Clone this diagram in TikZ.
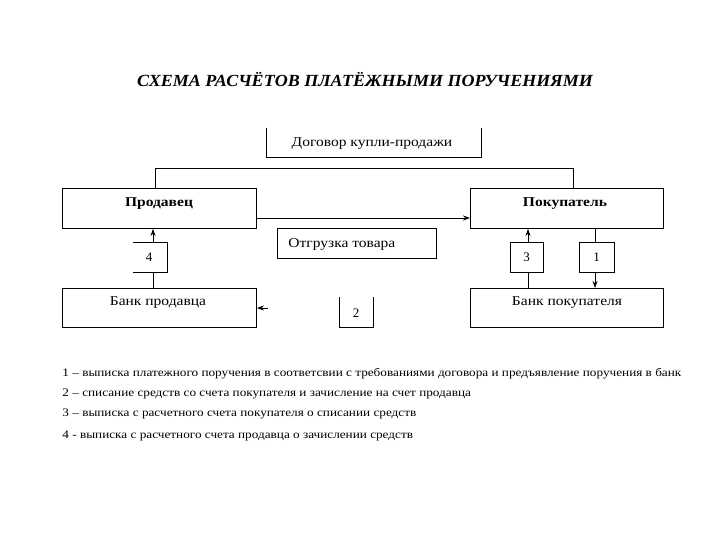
\documentclass[tikz,border=0pt]{standalone}
\usepackage{fontspec}
\setmainfont{Liberation Serif}
\newfontfamily\widefont[FakeStretch=1.15]{Liberation Serif}
\newfontfamily\titlefont[FakeStretch=1.06]{Liberation Serif}
\usetikzlibrary{arrows.meta}
\begin{document}
\begin{tikzpicture}[x=1pt,y=-1pt,line width=0.9pt,
  lbl/.style={font=\widefont\fontsize{13.5}{15}\selectfont},
  blbl/.style={font=\widefont\fontsize{13.5}{15}\selectfont\bfseries},
  num/.style={font=\fontsize{13}{15}\selectfont},
  arr/.style={-{Stealth[length=7pt,width=5pt]}},
  leg/.style={anchor=west,font=\widefont\fontsize{11.5}{13}\selectfont,inner sep=0pt}]
\useasboundingbox (0,0) rectangle (720,540);
\node[font=\titlefont\fontsize{17}{19}\selectfont\bfseries\itshape] (title) at (365,80) {СХЕМА РАСЧЁТОВ ПЛАТЁЖНЫМИ ПОРУЧЕНИЯМИ};
% contract box (open at top)
\coordinate (ctl) at (266,128);
\coordinate (ctr) at (481,128);
\draw (ctl) |- (481,157) -- (ctr);
\node[lbl] (contract) at (372,144) {Договор купли-продажи};
% main boxes
\node[draw,minimum width=194pt,minimum height=40pt,anchor=north west] (seller) at (62,188) {};
\node[blbl] at (159,204) {Продавец};
\node[draw,minimum width=193pt,minimum height=40pt,anchor=north west] (buyer) at (470,188) {};
\node[blbl] at (565,204) {Покупатель};
\node[draw,minimum width=194pt,minimum height=39pt,anchor=north west] (sbank) at (62,288) {};
\node[lbl] at (158,303) {Банк продавца};
\node[draw,minimum width=193pt,minimum height=39pt,anchor=north west] (bbank) at (470,288) {};
\node[lbl] at (567,303) {Банк покупателя};
\node[draw,minimum width=159pt,minimum height=30pt,anchor=north west] (ship) at (277,228) {};
\node[lbl,anchor=west,inner sep=0pt] at (288,244) {Отгрузка товара};
% top connector
\draw (seller.north -| 155,0) -- (155,168) -- (573,168) -- (buyer.north -| 573,0);
% shipment arrow
\draw[arr] (seller.east |- 0,218) -- (buyer.west |- 0,218);
% arrow 4
\draw[arr] (sbank.north -| 153,0) -- (seller.south -| 153,0);
\fill[white] (133,242) rectangle (167,272);
\draw (133,242) -- (167,242) -- (167,272) -- (133,272);
\node[num] (n4) at (149,257) {4};
% arrow 3
\draw[arr] (bbank.north -| 528,0) -- (buyer.south -| 528,0);
\node[draw,fill=white,minimum width=33pt,minimum height=30pt,num] (n3) at (526.5,257) {3};
% arrow 1
\draw[arr] (buyer.south -| 595,0) -- (bbank.north -| 595,0);
\node[draw,fill=white,minimum width=35pt,minimum height=30pt,num] (n1) at (596.5,257) {1};
% box 2 (open at top)
\draw (339,297) -- (339,327) -- (373,327) -- (373,297);
\node[num] (n2) at (356,313) {2};
% small arrow to seller bank
\coordinate (sa) at (268,308);
\draw[arr] (sa) -- (sbank.east |- sa);
% legend
\node[leg] (l1) at (62,374) {1 – выписка платежного поручения в соответсвии с требованиями договора и предъявление поручения в банк};
\node[leg] (l2) at (62,394) {2 – списание средств со счета покупателя и зачисление на счет продавца};
\node[leg] (l3) at (62,414) {3 – выписка с расчетного счета покупателя о списании средств};
\node[leg] (l4) at (62,436) {4 - выписка с расчетного счета продавца о зачислении средств};
\end{tikzpicture}
\end{document}
